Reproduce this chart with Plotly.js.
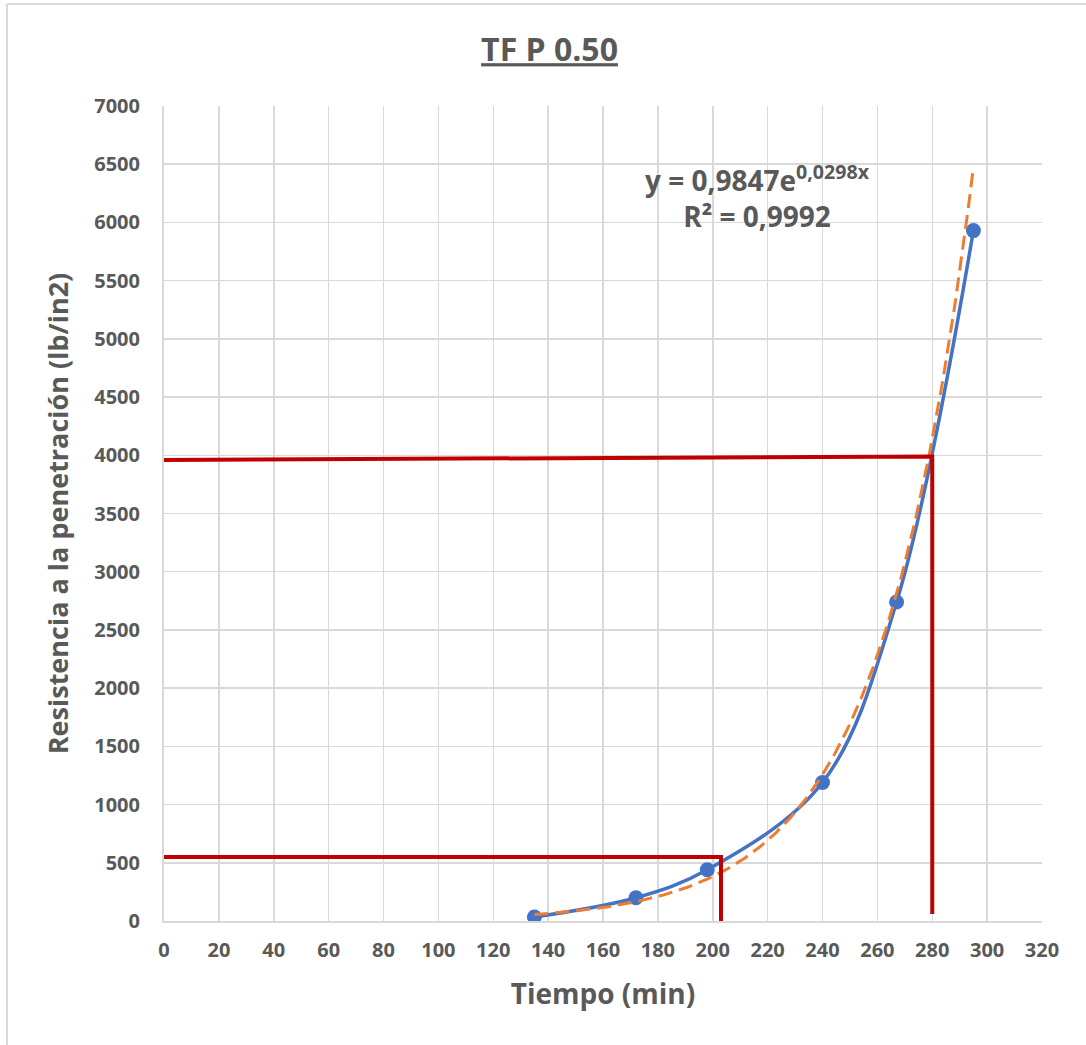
<!DOCTYPE html>
<html>
<head>
<meta charset="utf-8">
<script src="https://cdn.plot.ly/plotly-3.0.1.min.js"></script>
<style>html,body{margin:0;padding:0;background:#fff;}#chart{width:1086px;height:1045px;}</style>
</head>
<body>
<div id="chart"></div>
<script>
// Measured data (Tiempo in min, Resistencia in lb/in2)
const tiempo = [135, 172, 198, 240, 267, 295];
const resistencia = [35, 200, 440, 1190, 2740, 5930];

// Exponential trendline coefficients shown on the chart
const trendA = 0.9847;
const trendB = 0.0298;
const trendLabel = "y = 0,9847e<sup>0,0298x</sup><br>R² = 0,9992";

// Reference (red) lines
const refUpperX = [0, 280, 280];
const refUpperY = [3960, 3990, 60];
const refLowerX = [0, 203, 203];
const refLowerY = [550, 550, 0];

const xTicks = [0,20,40,60,80,100,120,140,160,180,200,220,240,260,280,300,320];
const yTicks = [0,500,1000,1500,2000,2500,3000,3500,4000,4500,5000,5500,6000,6500,7000];

// trendline sampled across data x range
const trendX = [];
const trendY = [];
for (let x = tiempo[0]; x <= tiempo[tiempo.length-1] + 1e-9; x += 0.5) {
  trendX.push(x);
  trendY.push(trendA * Math.exp(trendB * x));
}

const txt = '#595959';
const fontFam = '"Open Sans", "Noto Sans", sans-serif';
const grid = '#D9D9D9';

const traces = [
  {x: tiempo, y: resistencia, type: 'scatter', mode: 'lines+markers',
   line: {color: '#4472C4', width: 3.5, shape: 'spline', smoothing: 1},
   marker: {color: '#4472C4', size: 15}, hoverinfo: 'x+y'},
  {x: trendX, y: trendY, type: 'scatter', mode: 'lines',
   line: {color: '#ED7D31', width: 3, dash: '14px,7px'}},
  {x: refUpperX, y: refUpperY, type: 'scatter', mode: 'lines',
   line: {color: '#C00000', width: 4}},
  {x: refLowerX, y: refLowerY, type: 'scatter', mode: 'lines',
   line: {color: '#C00000', width: 4}}
];

const px2x = p => (p - 164) / 878;
const px2y = p => (921 - p) / 815;

const layout = {
  width: 1086, height: 1045,
  margin: {l: 164, r: 44, t: 106, b: 124},
  paper_bgcolor: '#ffffff', plot_bgcolor: '#ffffff',
  showlegend: false,
  font: {family: fontFam, color: txt},
  title: {text: '<u>TF P 0.50</u>', x: 0.506, xanchor: 'center', y: 1 - 50/1045, yanchor: 'middle',
          font: {size: 32, color: txt, family: fontFam, weight: 'bold'}},
  xaxis: {range: [0, 320], tickvals: xTicks, ticktext: xTicks.map(String),
          showgrid: true, gridcolor: grid, gridwidth: 1.5,
          showline: true, linecolor: grid, linewidth: 2,
          zeroline: false, ticks: '', ticklabelstandoff: 10,
          tickfont: {size: 20, color: txt, family: fontFam, weight: 'bold'},
          title: {text: 'Tiempo (min)', standoff: 22,
                  font: {size: 28, color: txt, family: fontFam, weight: 'bold'}}},
  yaxis: {range: [0, 7000], tickvals: yTicks, ticktext: yTicks.map(String),
          showgrid: true, gridcolor: grid, gridwidth: 1.5,
          showline: true, linecolor: grid, linewidth: 2, mirror: false,
          zeroline: false, ticks: '', ticklabelstandoff: 18,
          tickfont: {size: 20, color: txt, family: fontFam, weight: 'bold'},
          title: {text: 'Resistencia a la penetración (lb/in2)', standoff: 18,
                  font: {size: 27, color: txt, family: fontFam, weight: 'bold'}}},
  annotations: [
    {text: trendLabel, xref: 'paper', yref: 'paper', x: px2x(757), y: px2y(196),
     xanchor: 'center', yanchor: 'middle', showarrow: false, align: 'center',
     font: {size: 28, color: txt, family: fontFam, weight: 'bold'}}
  ],
  shapes: [
    {type: 'line', xref: 'paper', yref: 'paper', x0: px2x(7), x1: px2x(7), y0: px2y(4), y1: px2y(1045),
     line: {color: grid, width: 2}},
    {type: 'line', xref: 'paper', yref: 'paper', x0: px2x(7), x1: px2x(1086), y0: px2y(4), y1: px2y(4),
     line: {color: grid, width: 2}}
  ]
};

Plotly.newPlot('chart', traces, layout, {displayModeBar: false, staticPlot: true});
</script>
</body>
</html>
